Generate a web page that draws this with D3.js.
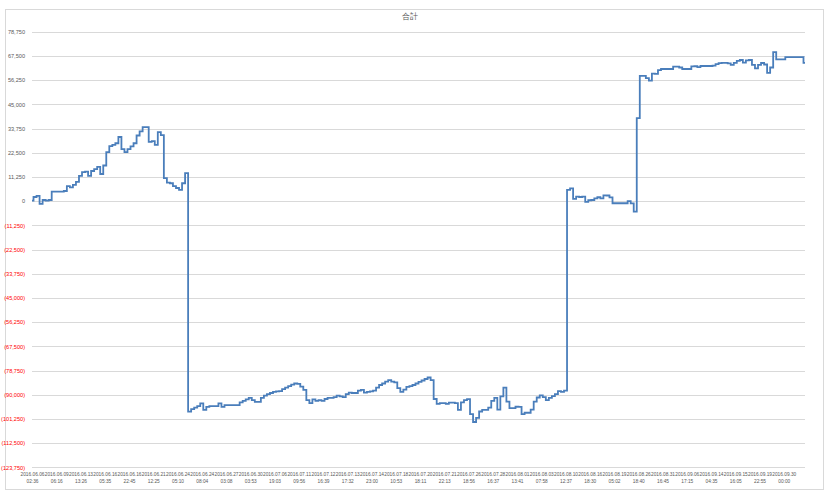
<!DOCTYPE html>
<html>
<head>
<meta charset="utf-8">
<script src="https://cdn.jsdelivr.net/npm/d3@7"></script>
<style>
  html, body { margin: 0; padding: 0; background: #fff; }
  svg { display: block; }
  text { font-family: "Liberation Sans", Arial, sans-serif; }
</style>
</head>
<body>
<svg id="chart" width="831" height="495"></svg>
<script>
const title = "合計";

const tickDates = ["2016.06.06","2016.06.09","2016.06.13","2016.06.16","2016.06.16","2016.06.21","2016.06.24","2016.06.24",
  "2016.06.27","2016.06.30","2016.07.06","2016.07.11","2016.07.12","2016.07.13","2016.07.14","2016.07.18",
  "2016.07.20","2016.07.21","2016.07.26","2016.07.28","2016.08.01","2016.08.03","2016.08.10","2016.08.16",
  "2016.08.19","2016.08.26","2016.08.31","2016.09.06","2016.09.14","2016.09.15","2016.09.19","2016.09.30"];
const tickTimes = ["02:36","06:16","13:26","05:35","22:45","12:25","05:10","08:04",
  "03:08","03:53","19:03","09:56","16:39","17:32","23:00","10:53",
  "18:11","22:13","18:56","16:37","13:41","07:58","12:37","18:30",
  "05:02","18:40","16:45","17:15","04:35","16:05","22:55","00:00"];
const pointsPerTick = 8;

const yTicks = [78750, 67500, 56250, 45000, 33750, 22500, 11250, 0, -11250, -22500, -33750, -45000,
  -56250, -67500, -78750, -90000, -101250, -112500, -123750];

const values = [
  200, 1900, 2400, -1300, 500, 200, 500, 4400, 4400, 4400, 4400, 4700, 7000, 6400, 7500, 8900,
  11700, 13500, 13700, 11700, 14000, 14900, 15900, 12600, 16550, 22800, 25600, 26100, 26900, 29800, 24200, 22800,
  24200, 25400, 26900, 30500, 32400, 34400, 34400, 27500, 27900, 26100, 32100, 30700, 10700, 8600, 8300, 7000,
  6100, 5200, 8300, 13000, -97900, -96700, -96000, -95300, -94000, -97100, -95700, -95300, -95300, -95300, -94000, -95700,
  -94800, -94800, -94800, -94800, -94800, -93600, -92900, -92200, -91500, -92500, -93300, -93300, -91500, -90400, -89700, -89200,
  -88700, -88500, -88300, -87400, -86700, -86000, -85300, -84800, -85000, -86200, -87800, -92500, -93900, -92200, -92900, -92500,
  -92900, -92000, -91500, -91500, -91100, -90400, -90800, -91100, -89700, -89000, -89200, -89200, -88100, -87800, -89000, -88700,
  -88500, -88100, -86700, -85500, -84800, -83900, -83200, -83900, -84300, -86900, -88700, -87600, -86400, -86000, -85500, -84800,
  -84000, -83400, -82700, -82000, -83200, -92000, -94300, -93900, -93900, -94300, -93700, -93700, -93900, -97100, -93600, -92500,
  -92100, -99000, -102700, -100800, -97800, -97100, -97100, -96000, -92900, -91500, -96900, -90800, -86700, -93200, -96200, -96200,
  -95600, -95700, -99000, -98400, -98400, -96900, -93200, -91300, -90300, -91100, -92500, -91500, -90700, -89700, -88300, -88700,
  -88100, 5200, 5900, 1000, 2100, 1900, 2100, -400, 400, 500, 1300, 1800, 1300, 2700, 2600, 1700,
  -1000, -1000, -1000, -1000, -1000, 0, -1100, -4900, 38600, 58200, 58200, 57200, 56000, 59300, 59100, 60900,
  61400, 61400, 61400, 61400, 62500, 62500, 62100, 61400, 61400, 61400, 62600, 62700, 62300, 62800, 62800, 62800,
  62800, 63000, 63700, 64100, 64300, 64300, 64000, 63300, 64300, 65200, 65600, 64400, 65400, 65600, 63300, 61700,
  63300, 64200, 63500, 59600, 62100, 69300, 65900, 65900, 65900, 66900, 66900, 66900, 66900, 66900, 66900, 64300
];

const W = 831, H = 495;
const plot = { left: 32, right: 805, top: 31.7, bottom: 467.3 };

const svg = d3.select("#chart");
svg.append("rect").attr("x", 0).attr("y", 0).attr("width", W).attr("height", H).attr("fill", "#fff");
svg.append("rect").attr("x", 5.5).attr("y", 9.5).attr("width", 818).attr("height", 480)
  .attr("fill", "#fff").attr("stroke", "#d9d9d9").attr("stroke-width", 1);

const x = d3.scaleLinear().domain([0, values.length - 1]).range([plot.left, plot.right]);
const y = d3.scaleLinear().domain([-123750, 78750]).range([plot.bottom, plot.top]);

// gridlines
svg.append("g").selectAll("line").data(yTicks).join("line")
  .attr("x1", plot.left).attr("x2", plot.right)
  .attr("y1", d => Math.round(y(d)) + 0.5).attr("y2", d => Math.round(y(d)) + 0.5)
  .attr("stroke", "#d9d9d9").attr("stroke-width", 1);

// y axis
const fmt = d3.format(",");
const yAxis = d3.axisLeft(y).tickValues(yTicks).tickSize(0).tickPadding(0)
  .tickFormat(d => d < 0 ? "(" + fmt(-d) + ")" : fmt(d));
const gy = svg.append("g").attr("transform", "translate(25,0)").call(yAxis);
gy.select(".domain").remove();
gy.selectAll("text")
  .attr("font-size", "5.6px")
  .attr("font-family", "Liberation Sans, Arial, sans-serif")
  .attr("fill", d => d < 0 ? "#ff0000" : "#595959");

// x axis
const tickIdx = tickDates.map((_, i) => i * pointsPerTick);
const xAxis = d3.axisBottom(x).tickValues(tickIdx).tickSize(0).tickPadding(0).tickFormat(() => "");
const gx = svg.append("g").attr("transform", "translate(0,470)").call(xAxis);
gx.select(".domain").remove();
gx.selectAll(".tick text").each(function(d, i) {
  const t = d3.select(this).attr("font-size", "4.8px").attr("fill", "#595959")
    .attr("font-family", "Liberation Sans, Arial, sans-serif").attr("dy", null).attr("y", 0);
  const k = d / pointsPerTick;
  t.append("tspan").attr("x", 0).attr("y", 5.5).text(tickDates[k]);
  t.append("tspan").attr("x", 0).attr("y", 13).text(tickTimes[k]);
});

// line
const line = d3.line().x((d, i) => x(i)).y(d => y(d)).curve(d3.curveStep);
svg.append("path").datum(values)
  .attr("d", line)
  .attr("fill", "none")
  .attr("stroke", "#4a7ebb")
  .attr("stroke-width", 1.8)
  .attr("stroke-linejoin", "miter");

// title
svg.append("text").attr("x", 410).attr("y", 19).attr("text-anchor", "middle")
  .attr("font-size", "8px").attr("fill", "#595959")
  .attr("font-family", "Noto Sans CJK JP, Noto Sans CJK SC, sans-serif")
  .text(title);
</script>
</body>
</html>
